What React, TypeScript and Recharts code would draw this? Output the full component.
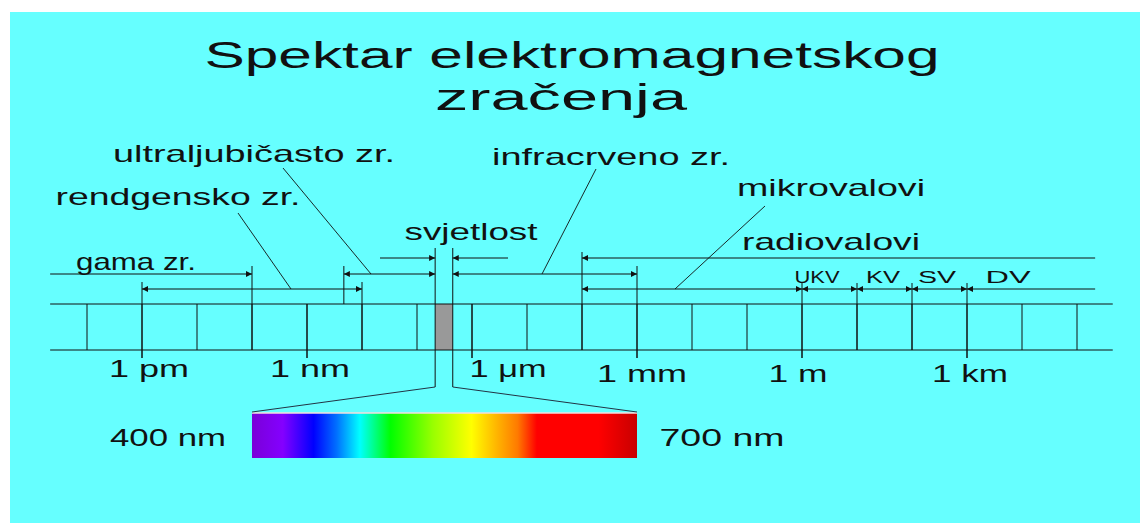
import React from 'react';
import {
  ComposedChart,
  XAxis,
  YAxis,
  ReferenceLine,
  ReferenceArea,
  Scatter,
  Customized,
} from 'recharts';

// ---------------- DATA (wavelength as log10(λ / m)) ----------------
const rulerDecades = [-13, -12, -11, -10, -9, -8, -7, -6, -5, -4, -3, -2, -1, 0, 1, 2, 3, 4, 5];
const rulerRange = [-13.67, 5.65];
const tickValues = [-12, -9, -6, -3, 0, 3];
const tickLabels = ['1 pm', '1 nm', '1 \u03bcm', '1 mm', '1 m', '1 km'];

const bandNames = ['gama zr.', 'rendgensko zr.', 'ultraljubičasto zr.', 'svjetlost', 'infracrveno zr.', 'mikrovalovi', 'radiovalovi'];
const bandFrom = [-13.67, -12, -8.33, -6.67, -6.35, -4, -4];
const bandTo = [-10, -8, -6.67, -6.35, -3, 0, 5.33];

const radioNames = ['UKV', 'KV', 'SV', 'DV'];
const radioFrom = [0, 1, 2, 3];
const radioTo = [1, 2, 3, 5.33];

const visibleLabels = ['400 nm', '700 nm'];

const spectrumStops = [
  { o: 0, c: '#7a00d8' },
  { o: 0.08, c: '#8400ff' },
  { o: 0.16, c: '#0000ff' },
  { o: 0.22, c: '#0070ff' },
  { o: 0.28, c: '#00ffff' },
  { o: 0.36, c: '#00ff00' },
  { o: 0.47, c: '#99ff00' },
  { o: 0.57, c: '#ffff00' },
  { o: 0.64, c: '#ffb000' },
  { o: 0.69, c: '#ff7a00' },
  { o: 0.74, c: '#ff0000' },
  { o: 0.9, c: '#ff0000' },
  { o: 1, c: '#c80000' },
];

// ---------------- LAYOUT ----------------
const W = 1140;
const H = 523;
const X_ONE_METRE = 802; // pixel of 1 m
const PX_PER_DECADE = 55;
const toL = (px: number) => (px - X_ONE_METRE) / PX_PER_DECADE;
const xDomain = [toL(0), toL(W)];

const RULER_TOP = 304;
const RULER_BOTTOM = 350;
const STROKE = '#111';
const FONT = "'Liberation Sans', Arial, Helvetica, sans-serif";

// arrow row, arrow heads [start, end], label (centre px, baseline, size, width)
const bandLayout = [
  { row: 274, heads: [false, true], lx: 136, ly: 270, size: 24, w: 120 },
  { row: 289, heads: [true, true], lx: 178, ly: 205, size: 24, w: 245 },
  { row: 274, heads: [true, true], lx: 254, ly: 162, size: 24, w: 282 },
  { row: 258, heads: [false, false], lx: 471, ly: 240, size: 24, w: 133 },
  { row: 274, heads: [true, true], lx: 611, ly: 165, size: 24, w: 238 },
  { row: 289, heads: [true, true], lx: 831, ly: 196, size: 24, w: 188 },
  { row: 258, heads: [true, false], lx: 831, ly: 250, size: 24, w: 178 },
];
const radioLayout = [
  { row: 289, heads: [true, true], lx: 817, ly: 283, size: 16, w: 45 },
  { row: 289, heads: [true, true], lx: 883, ly: 283, size: 16, w: 34 },
  { row: 289, heads: [true, true], lx: 937, ly: 283, size: 16, w: 38 },
  { row: 289, heads: [true, false], lx: 1008, ly: 283, size: 16, w: 45 },
];
const tickLabelLayout = [
  { lx: 149, ly: 377, w: 80 },
  { lx: 310, ly: 377, w: 80 },
  { lx: 508, ly: 377, w: 77 },
  { lx: 642, ly: 382, w: 90 },
  { lx: 798, ly: 382, w: 59 },
  { lx: 970, ly: 382, w: 76 },
];
// extension lines: [L, yTop, yBottom]
const extensions: [number, number, number][] = [
  [-12, 282, 358],
  [-10, 266, 350],
  [bandFrom[2], 266, 304],
  [-8, 282, 350],
  [-9, 304, 358],
  [bandFrom[3], 248, 387],
  [bandTo[3], 248, 387],
  [-6, 304, 358],
  [-4, 252, 350],
  [-3, 266, 358],
  [0, 283, 358],
  [1, 283, 350],
  [2, 283, 350],
  [3, 283, 358],
];
// leader lines from label to arrow: [x1px, y1, x2px, y2]
const leaders: [number, number, number, number][] = [
  [238, 213, 291, 289],
  [283, 168, 371, 274],
  [596, 169, 542, 274],
  [765, 206, 675, 289],
];
// svjetlost inward arrows
const lightArrows: [number, number][] = [
  [toL(380), bandFrom[3]],
  [toL(508), bandTo[3]],
];
const spectrumBox = { x1: -10, x2: -3, y1: 413, y2: 458, joinY: 387 };
const visibleLabelLayout = [
  { lx: 168, ly: 446, w: 116 },
  { lx: 722, ly: 446, w: 125 },
];

type TextPoint = { x: number; y: number; text: string; size: number; w: number };

const textPoints: TextPoint[] = [
  { x: toL(572), y: 68, text: 'Spektar elektromagnetskog', size: 36, w: 735 },
  { x: toL(561), y: 110, text: 'zračenja', size: 36, w: 252 },
  ...bandNames.map((t, i) => ({ x: toL(bandLayout[i].lx), y: bandLayout[i].ly, text: t, size: bandLayout[i].size, w: bandLayout[i].w })),
  ...radioNames.map((t, i) => ({ x: toL(radioLayout[i].lx), y: radioLayout[i].ly, text: t, size: radioLayout[i].size, w: radioLayout[i].w })),
  ...tickLabels.map((t, i) => ({ x: toL(tickLabelLayout[i].lx), y: tickLabelLayout[i].ly, text: t, size: 23, w: tickLabelLayout[i].w })),
  ...visibleLabels.map((t, i) => ({ x: toL(visibleLabelLayout[i].lx), y: visibleLabelLayout[i].ly, text: t, size: 23, w: visibleLabelLayout[i].w })),
];

const TextShape = (props: any) => {
  const { cx, cy, payload } = props;
  if (cx == null || cy == null) return null;
  return (
    <text
      x={cx}
      y={cy}
      textAnchor="middle"
      fontSize={payload.size}
      textLength={payload.w}
      lengthAdjust="spacingAndGlyphs"
      fill="#111"
      fontFamily={FONT}
    >
      {payload.text}
    </text>
  );
};

const Defs = () => (
  <defs>
    <marker
      id="arrowHead"
      viewBox="0 0 10 10"
      refX="10"
      refY="5"
      markerWidth="9"
      markerHeight="6"
      markerUnits="userSpaceOnUse"
      orient="auto-start-reverse"
    >
      <path d="M0,0 L10,5 L0,10 z" fill="#111" />
    </marker>
    <linearGradient id="spectrum" x1="0" y1="0" x2="1" y2="0">
      {spectrumStops.map((s, i) => (
        <stop key={i} offset={s.o} stopColor={s.c} />
      ))}
    </linearGradient>
  </defs>
);

const seg = (x1: number, y1: number, x2: number, y2: number, key: string, extra: any = {}) => (
  <ReferenceLine
    key={key}
    segment={[{ x: x1, y: y1 }, { x: x2, y: y2 }]}
    stroke={STROKE}
    strokeWidth={1}
    ifOverflow="visible"
    {...extra}
  />
);

export default function App() {
  const arrowProps = (heads: boolean[]) => ({
    markerStart: heads[0] ? 'url(#arrowHead)' : undefined,
    markerEnd: heads[1] ? 'url(#arrowHead)' : undefined,
  });

  return (
    <div style={{ position: 'relative', width: W, height: H, background: '#ffffff' }}>
      <style>{'body{margin:0;}'}</style>
      <div style={{ position: 'absolute', left: 10, top: 12, right: 0, bottom: 0, background: '#66ffff' }} />
      <div style={{ position: 'absolute', left: 0, top: 0 }}>
        <ComposedChart width={W} height={H} margin={{ top: 0, right: 0, bottom: 0, left: 0 }}>
          <Customized component={Defs} />
          <XAxis type="number" dataKey="x" domain={xDomain} hide allowDataOverflow />
          <YAxis type="number" dataKey="y" domain={[0, H]} reversed hide allowDataOverflow />

          {/* visible band on the ruler */}
          <ReferenceArea x1={bandFrom[3]} x2={bandTo[3]} y1={RULER_TOP} y2={RULER_BOTTOM} fill="#999999" fillOpacity={1} stroke="none" ifOverflow="visible" />

          {/* spectrum inset */}
          <ReferenceArea x1={spectrumBox.x1} x2={spectrumBox.x2} y1={spectrumBox.y1} y2={spectrumBox.y2} fill="url(#spectrum)" fillOpacity={1} stroke="none" ifOverflow="visible" />
          {seg(spectrumBox.x1, spectrumBox.y1, spectrumBox.x2, spectrumBox.y1, 'spec-top', { stroke: '#f4dede', strokeWidth: 1.5 })}
          {seg(bandFrom[3], spectrumBox.joinY, spectrumBox.x1, spectrumBox.y1 - 1, 'diag-l', { stroke: '#234' })}
          {seg(bandTo[3], spectrumBox.joinY, spectrumBox.x2, spectrumBox.y1 - 1, 'diag-r', { stroke: '#234' })}

          {/* ruler */}
          {seg(rulerRange[0], RULER_TOP, rulerRange[1], RULER_TOP, 'r-top')}
          {seg(rulerRange[0], RULER_BOTTOM, rulerRange[1], RULER_BOTTOM, 'r-bot')}
          {rulerDecades.map((d) => seg(d, RULER_TOP, d, RULER_BOTTOM, `dec-${d}`))}
          {tickValues.map((t) => seg(t, RULER_BOTTOM, t, RULER_BOTTOM + 8, `tk-${t}`))}

          {/* extension lines */}
          {extensions.map((e, i) => seg(e[0], e[1], e[0], e[2], `ext-${i}`))}

          {/* band arrows */}
          {bandNames.map((n, i) =>
            i === 3 ? null : seg(bandFrom[i], bandLayout[i].row, bandTo[i], bandLayout[i].row, `band-${i}`, arrowProps(bandLayout[i].heads))
          )}
          {lightArrows.map((a, i) => seg(a[0], bandLayout[3].row, a[1], bandLayout[3].row, `light-${i}`, arrowProps([false, true])))}
          {radioNames.map((n, i) => seg(radioFrom[i], radioLayout[i].row, radioTo[i], radioLayout[i].row, `radio-${i}`, arrowProps(radioLayout[i].heads)))}

          {/* leaders */}
          {leaders.map((l, i) => seg(toL(l[0]), l[1], toL(l[2]), l[3], `lead-${i}`, { strokeWidth: 0.9 }))}

          <Scatter data={textPoints} shape={TextShape} isAnimationActive={false} />
        </ComposedChart>
      </div>
    </div>
  );
}
